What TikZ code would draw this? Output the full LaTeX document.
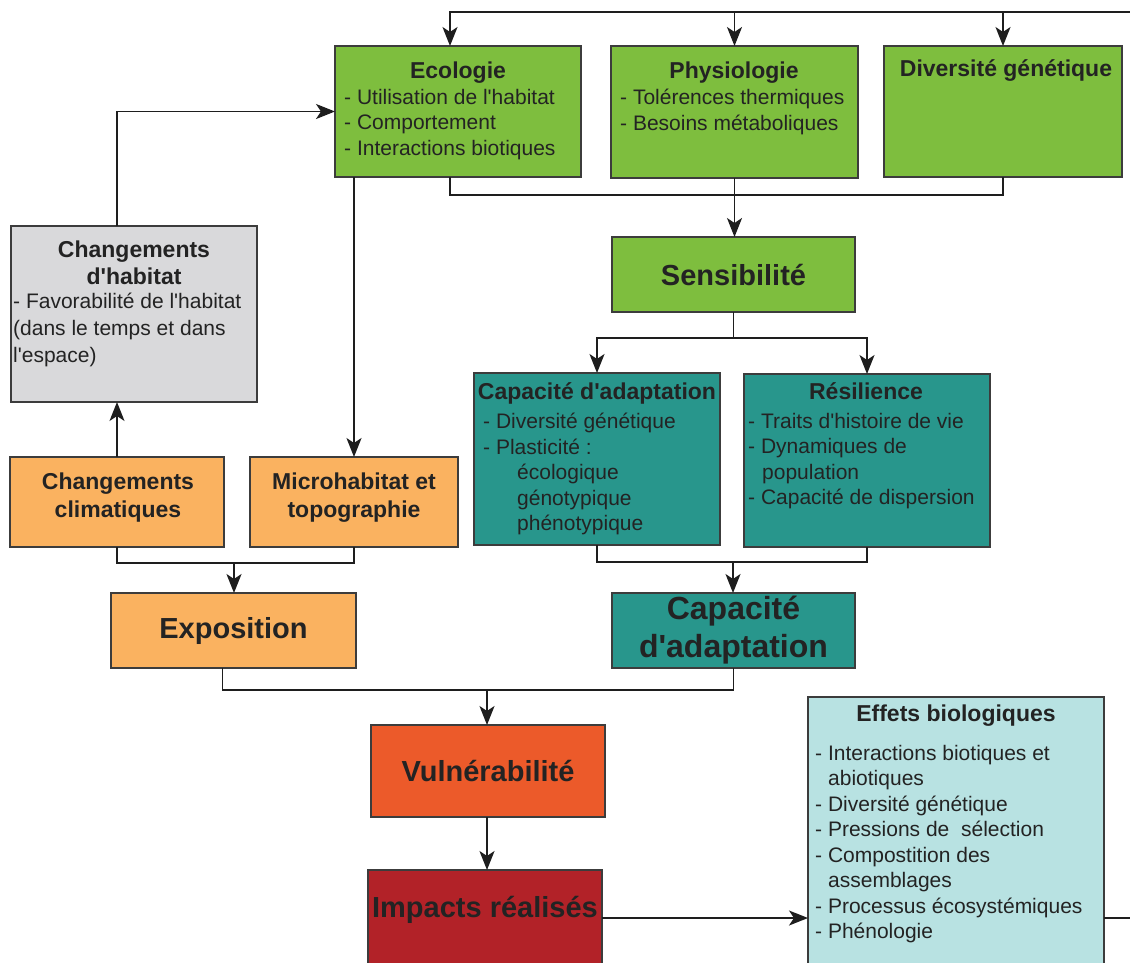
\documentclass[tikz,border=0pt]{standalone}
\usepackage{fontspec}
\setmainfont{Liberation Sans}[Ligatures=TeXOff]
\usetikzlibrary{arrows.meta}

\definecolor{cgreen}{RGB}{126,190,62}
\definecolor{cteal}{RGB}{40,150,140}
\definecolor{corange}{RGB}{250,178,96}
\definecolor{cgray}{RGB}{217,217,219}
\definecolor{cvul}{RGB}{236,90,42}
\definecolor{cimp}{RGB}{178,34,40}
\definecolor{ceff}{RGB}{184,226,226}
\definecolor{edge}{RGB}{60,60,60}
\definecolor{ink}{RGB}{35,35,35}
\definecolor{wirecol}{RGB}{30,30,30}

\tikzset{
  box/.style={draw=edge, line width=1.6pt, anchor=north west, inner sep=0pt, outer sep=0pt},
  ttl/.style={font=\bfseries\fontsize{23}{27}\selectfont, text=ink, inner sep=0pt, align=center},
  big/.style={font=\bfseries\fontsize{29}{34}\selectfont, text=ink, align=center},
  items/.style={font=\fontsize{21}{25.5}\selectfont, text=ink, inner sep=0pt, align=left, anchor=north west},
  wire/.style={draw=wirecol, line width=1.6pt},
  arr/.style={wire, -{Stealth[length=19pt,width=15pt,inset=5pt]}},
}

\begin{document}
\begin{tikzpicture}[x=1pt,y=-1pt]
\clip (0,0) rectangle (1130,962);
\fill[white] (0,0) rectangle (1130,962);

% ---------- top row: sensitivity components ----------
\node[box, fill=cgreen, minimum width=246pt, minimum height=131pt] (eco) at (335,46) {};
\node[box, fill=cgreen, minimum width=247pt, minimum height=132pt] (phy) at (611,46) {};
\node[box, fill=cgreen, minimum width=238pt, minimum height=131pt] (div) at (884,46) {};

\node[ttl, anchor=base] (ecoT) at (458,78) {Ecologie};
\node[items] (ecoL) at (344,89) {- Utilisation de l'habitat\\- Comportement\\- Interactions biotiques};
\node[ttl, anchor=base] (phyT) at (734,78) {Physiologie};
\node[items] (phyL) at (620,89) {- Tolérences thermiques\\- Besoins métaboliques};
\node[ttl, anchor=base] (divT) at (1006,76) {Diversité génétique};

% ---------- sensitivity ----------
\node[box, fill=cgreen, minimum width=243pt, minimum height=75pt, big] (sens) at (612,237) {Sensibilité};

% ---------- adaptive capacity and resilience ----------
\node[box, fill=cteal, minimum width=246pt, minimum height=172pt] (cap) at (474,373) {};
\node[box, fill=cteal, minimum width=246pt, minimum height=173pt] (res) at (744,374) {};
\node[ttl, anchor=base] (capT) at (597,399) {Capacité d'adaptation};
\node[items] (capL) at (483,413) {- Diversité génétique\\- Plasticité :\\\hspace*{34pt}écologique\\\hspace*{34pt}génotypique\\\hspace*{34pt}phénotypique};
\node[ttl, anchor=base] (resT) at (866,399) {Résilience};
\node[items] (resL) at (748,413) {- Traits d'histoire de vie\\- Dynamiques de\\\hspace*{14pt}population\\- Capacité de dispersion};

\node[box, fill=cteal, minimum width=243pt, minimum height=75pt,
      font=\bfseries\fontsize{32}{38}\selectfont, text=ink, align=center] (cap2) at (612,593) {Capacité\\d'adaptation};

% ---------- exposure side ----------
\node[box, fill=cgray, minimum width=246pt, minimum height=176pt] (hab) at (11,226) {};
\node[ttl, anchor=north] (habT) at (134,241) {Changements\\d'habitat};
\node[items, font=\fontsize{21}{27}\selectfont] (habL) at (13,293) {- Favorabilité de l'habitat\\(dans le temps et dans\\l'espace)};

\node[box, fill=corange, minimum width=214pt, minimum height=90pt] (clim) at (10,457) {};
\node[box, fill=corange, minimum width=208pt, minimum height=90pt] (micro) at (250,457) {};
\node[ttl, anchor=north, font=\bfseries\fontsize{23}{28}\selectfont] (climT) at (118,473) {Changements\\climatiques};
\node[ttl, anchor=north, font=\bfseries\fontsize{23}{28}\selectfont] (microT) at (354,473) {Microhabitat et\\topographie};

\node[box, fill=corange, minimum width=245pt, minimum height=75pt, big] (expo) at (111,593) {Exposition};

% ---------- vulnerability and impacts ----------
\node[box, fill=cvul, minimum width=234pt, minimum height=92pt, big] (vul) at (371,725) {Vulnérabilité};
\node[box, fill=cimp, minimum width=234pt, minimum height=96pt] (imp) at (368,870) {};
\node[big, inner sep=0pt] (impT) at (485,910) {Impacts réalisés};

\node[box, fill=ceff, minimum width=296pt, minimum height=290pt] (eff) at (808,697) {};
\node[ttl, anchor=base] (effT) at (956,721) {Effets biologiques};
\node[items] (effL) at (815,745) {- Interactions biotiques et\\\hspace*{13pt}abiotiques\\- Diversité génétique\\- Pressions de\ \ sélection\\- Compostition des\\\hspace*{13pt}assemblages\\- Processus écosystémiques\\- Phénologie};

% ---------- connectors ----------
\coordinate (topR) at (1130,12);
\draw[arr] (topR) -| ([xshift=-8pt]eco.north);
\draw[arr] (topR -| phy.north) -- (phy.north);
\draw[arr] (topR -| div.north) -- (div.north);

\coordinate (busS) at (735,195);
\draw[wire] ([xshift=-8pt]eco.south) |- (busS) -| (div.south);
\draw[arr] (phy.south) -- (phy.south |- sens.north);

\coordinate (splitY) at (0,338);
\draw[wire] (sens.south) -- (sens.south |- splitY);
\draw[arr] (sens.south |- splitY) -| (cap.north);
\draw[arr] (sens.south |- splitY) -| (res.north);

\coordinate (mergeC) at (733,562);
\draw[wire] (cap.south) |- (mergeC) -| (res.south);
\draw[arr] (mergeC) -- (mergeC |- cap2.north);

\coordinate (mergeE) at (234,563);
\draw[wire] (clim.south) |- (mergeE) -| (micro.south);
\draw[arr] (mergeE) -- (mergeE |- expo.north);

\draw[arr] (clim.north) -- (clim.north |- hab.south);
\draw[arr] (clim.north |- hab.north) |- (eco.west);
\draw[arr] (micro.north |- eco.south) -- (micro.north);

\coordinate (mergeV) at (487,690);
\draw[wire] ([xshift=-11pt]expo.south) |- (mergeV) -| (cap2.south);
\draw[arr] (mergeV) -- (mergeV |- vul.north);
\draw[arr] (mergeV |- vul.south) -- (mergeV |- imp.north);

\coordinate (effR) at (1130,918);
\draw[arr] (imp.east |- effR) -- (eff.west |- effR);
\draw[wire] (eff.east |- effR) -- (effR);
\end{tikzpicture}
\end{document}
